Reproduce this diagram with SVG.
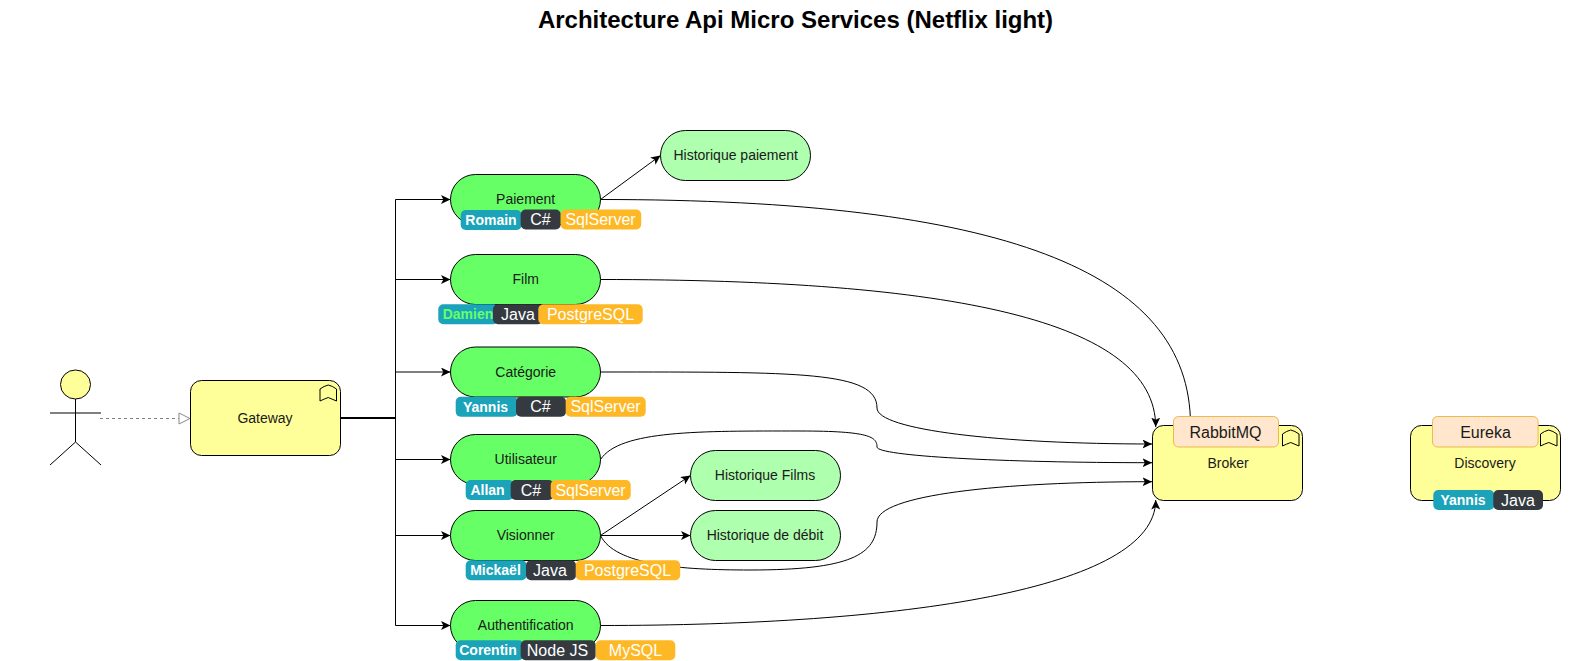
<svg xmlns="http://www.w3.org/2000/svg" width="1591" height="661" viewBox="0 0 1591 661">
<defs>
<marker id="arr" markerUnits="userSpaceOnUse" markerWidth="11" markerHeight="10" refX="9.5" refY="4.5" orient="auto"><path d="M0 0L9.5 4.5L0 9L2.3 4.5Z" fill="#000"/></marker>
<marker id="tri" markerUnits="userSpaceOnUse" markerWidth="14" markerHeight="14" refX="12" refY="6.5" orient="auto"><path d="M1 1L12 6.5L1 12Z" fill="#fff" stroke="#8a8a8a"/></marker>
<path id="bm" d="M0 16V4Q4 1 8.25 0Q12.5 1 16.5 4V16L8.25 12.5Q4 14 0 16Z" fill="none" stroke="#000" stroke-width="1"/>
</defs>
<style>
text{font-family:"Liberation Sans",Arial,sans-serif;text-anchor:middle;dominant-baseline:central}
.title{font-size:24px;font-weight:bold;fill:#000}
.lbl{font-size:14px;fill:#1a1a1a}
.hd{font-size:16px;fill:#1a1a1a}
.y{fill:#ffff99;stroke:#000;stroke-width:1}
.g{fill:#66ff66;stroke:#000;stroke-width:1}
.lg{fill:#aeffae;stroke:#000;stroke-width:1}
.c{fill:none;stroke:#000;stroke-width:1}
.a{marker-end:url(#arr)}
.tag{fill:#ffe6cc;stroke:#edb84c;stroke-width:1}
.bi{fill:#1ba3b9}.bd{fill:#343a40}.bw{fill:#feb826}
.n{font-size:14px;font-weight:bold;fill:#fff}
.t{font-size:16px;fill:#fff}
</style>
<text class="title" x="795.5" y="19.5">Architecture Api Micro Services (Netflix light)</text>
<g id="connectors">
<path class="c" d="M100 418.5H190" stroke-dasharray="3 3" style="stroke:#808080;marker-end:url(#tri)"/>
<path class="c" style="stroke-width:2" d="M340 418H395.5"/>
<path class="c" d="M395.5 199.5V625.5"/>
<path class="c a" d="M395.5 199.5H450.5"/>
<path class="c a" d="M395.5 279.5H450.5"/>
<path class="c a" d="M395.5 372H450.5"/>
<path class="c a" d="M395.5 459.5H450.5"/>
<path class="c a" d="M395.5 535.5H450.5"/>
<path class="c a" d="M395.5 625.5H450.5"/>
<path class="c a" d="M600.5 199.5L660.5 155.5"/>
<path class="c a" d="M600.5 535.5L690.5 475.5"/>
<path class="c a" d="M600.5 535.5H690.5"/>
<path class="c" d="M600.5 199.5C1000 199.5 1190.5 270 1190.5 425"/>
<path class="c a" d="M600.5 279.5C950 279.5 1155.7 320 1155.7 427"/>
<path class="c a" d="M600.5 372C800 372 877 371 877 408C877 430 1000 444 1152 444"/>
<path class="c a" d="M600.5 459.5C620 430 700 431 800 431C870 431 877 437 877 447C877 456 1000 462.7 1152 462.7"/>
<path class="c a" d="M600.5 535.5C615 565 680 570 750 570C850 570 877 555 877 522C877 495 1000 481.7 1152 481.7"/>
<path class="c a" d="M600.5 625.5C900 625.5 1155.7 590 1155.7 500"/>
</g>
<g id="actor" fill="none" stroke="#000">
<ellipse cx="75.5" cy="384.5" rx="15" ry="14.5" fill="#ffff99"/>
<path d="M75.5 399V442M50 413H101M50 465L75.5 442L101 465"/>
</g>
<g id="gateway"><rect class="y" x="190.5" y="380.5" width="150" height="75" rx="11"/><use href="#bm" x="320" y="385"/><text class="lbl" x="265" y="418">Gateway</text></g>
<g id="paiement"><rect class="g" x="450.5" y="174.5" width="150" height="50" rx="25"/><text class="lbl" x="525.7" y="199">Paiement</text>
<rect class="bi" x="460.7" y="210" width="61" height="20" rx="5"/><text class="n" x="491" y="220">Romain</text>
<rect class="bd" x="520.7" y="209.5" width="40" height="20" rx="5"/><text class="t" x="540.5" y="219.5">C#</text>
<rect class="bw" x="560.7" y="209.5" width="80.5" height="20" rx="5"/><text class="t" x="600.5" y="219.5">SqlServer</text></g>
<g id="film"><rect class="g" x="450.5" y="254.5" width="150" height="50" rx="25"/><text class="lbl" x="525.7" y="279">Film</text>
<rect class="bi" x="438.3" y="304.3" width="60" height="20" rx="5"/><text class="n" x="468" y="314.3" style="fill:#66ff66">Damien</text>
<rect class="bd" x="493" y="304.3" width="50" height="20" rx="5"/><text class="t" x="518" y="314.3">Java</text>
<rect class="bw" x="538.3" y="304.3" width="104.4" height="20" rx="5"/><text class="t" x="590.5" y="314.3">PostgreSQL</text></g>
<g id="categorie"><rect class="g" x="450.5" y="347" width="150" height="50" rx="25"/><text class="lbl" x="525.7" y="371.7">Catégorie</text>
<rect class="bi" x="455.7" y="396.7" width="62" height="20" rx="5"/><text class="n" x="485.5" y="406.7">Yannis</text>
<rect class="bd" x="516" y="396.7" width="50" height="20" rx="5"/><text class="t" x="540.5" y="406.7">C#</text>
<rect class="bw" x="565.7" y="396.7" width="80" height="20" rx="5"/><text class="t" x="605.5" y="406.7">SqlServer</text></g>
<g id="utilisateur"><rect class="g" x="450.5" y="434.5" width="150" height="50" rx="25"/><text class="lbl" x="525.7" y="459">Utilisateur</text>
<rect class="bi" x="465.7" y="480" width="48" height="20" rx="5"/><text class="n" x="487.5" y="490">Allan</text>
<rect class="bd" x="510.7" y="480" width="43" height="20" rx="5"/><text class="t" x="531" y="490">C#</text>
<rect class="bw" x="550.7" y="480" width="80" height="20" rx="5"/><text class="t" x="590.5" y="490">SqlServer</text></g>
<g id="visionner"><rect class="g" x="450.5" y="510.5" width="150" height="50" rx="25"/><text class="lbl" x="525.7" y="535">Visionner</text>
<rect class="bi" x="465.7" y="560.3" width="61" height="20" rx="5"/><text class="n" x="495.5" y="570.3">Mickaël</text>
<rect class="bd" x="526" y="560.3" width="50" height="20" rx="5"/><text class="t" x="550" y="570.3">Java</text>
<rect class="bw" x="575.7" y="560.3" width="104.5" height="20" rx="5"/><text class="t" x="627.5" y="570.3">PostgreSQL</text></g>
<g id="authentification"><rect class="g" x="450.5" y="600.5" width="150" height="50" rx="25"/><text class="lbl" x="525.7" y="625">Authentification</text>
<rect class="bi" x="455.7" y="640.3" width="68" height="20" rx="5"/><text class="n" x="488" y="650.3">Corentin</text>
<rect class="bd" x="520.7" y="640.3" width="75" height="20" rx="5"/><text class="t" x="557.5" y="650.3">Node JS</text>
<rect class="bw" x="595.7" y="640.3" width="79.6" height="20" rx="5"/><text class="t" x="635.5" y="650.3">MySQL</text></g>
<g id="historique-paiement"><rect class="lg" x="660.5" y="130.5" width="150" height="50" rx="25"/><text class="lbl" x="735.7" y="155">Historique paiement</text></g>
<g id="historique-films"><rect class="lg" x="690.5" y="450.5" width="150" height="50" rx="25"/><text class="lbl" x="765" y="475">Historique Films</text></g>
<g id="historique-debit"><rect class="lg" x="690.5" y="510.5" width="150" height="50" rx="25"/><text class="lbl" x="765" y="535">Historique de débit</text></g>
<g id="broker"><rect class="y" x="1152.5" y="425.5" width="150" height="75" rx="11"/><use href="#bm" x="1282.5" y="430"/><text class="lbl" x="1228" y="462.5">Broker</text>
<rect class="tag" x="1173.5" y="416.5" width="105" height="30.5" rx="5"/><text class="hd" x="1225.5" y="432">RabbitMQ</text></g>
<g id="discovery"><rect class="y" x="1410.5" y="425.5" width="150" height="75" rx="11"/><use href="#bm" x="1540.5" y="430"/><text class="lbl" x="1485" y="462.5">Discovery</text>
<rect class="tag" x="1432.5" y="416.5" width="105.6" height="30.5" rx="5"/><text class="hd" x="1485.5" y="432">Eureka</text>
<rect class="bi" x="1433.3" y="490" width="61" height="20" rx="5"/><text class="n" x="1463" y="500">Yannis</text>
<rect class="bd" x="1493.3" y="490" width="49.7" height="20" rx="5"/><text class="t" x="1518" y="500">Java</text></g>
</svg>
